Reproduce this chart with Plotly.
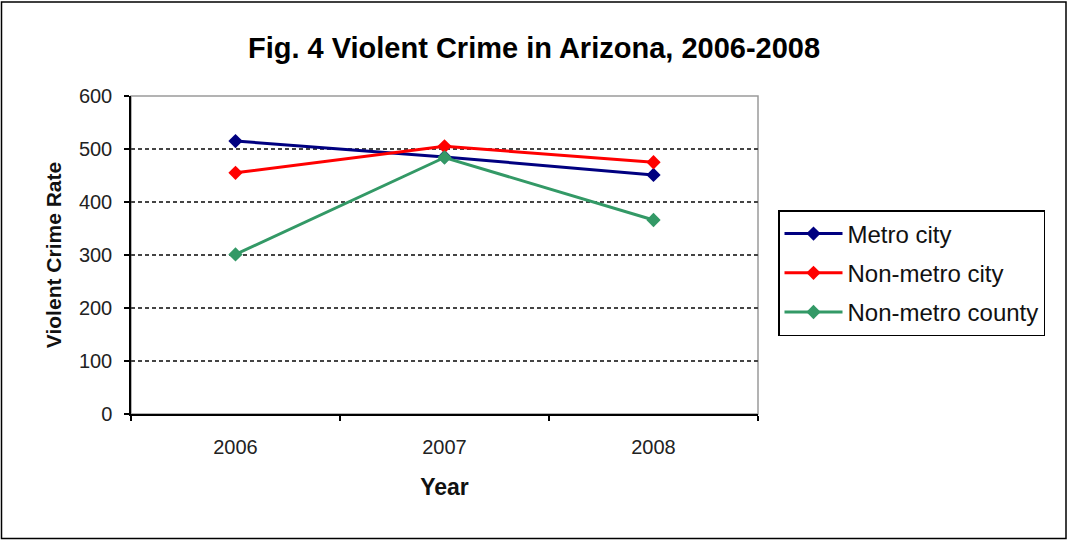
import plotly.graph_objects as go

years = ["2006", "2007", "2008"]
metro_city = [515, 485, 451]
non_metro_city = [455, 505, 475]
non_metro_county = [301, 484, 366]
series_names = ["Metro city", "Non-metro city", "Non-metro county"]
series_colors = ["#000080", "#FF0000", "#339966"]

W, H = 1068, 541
L, R, T, B = 131, 310, 96, 127
pw, ph = W - L - R, H - T - B

fig = go.Figure()
for i, (name, vals, col) in enumerate(zip(series_names, [metro_city, non_metro_city, non_metro_county], series_colors)):
    fig.add_trace(go.Scatter(
        x=years, y=vals, name=name, mode="lines+markers",
        line=dict(color=col, width=3),
        marker=dict(symbol="diamond", size=11, color=col),
        legendgroup=f"g{i}",
    ))

font_family = "Liberation Sans, Arial, sans-serif"

def px_x(px):
    return (px - L) / pw

def px_y(py):
    return (H - B - py) / ph

fig.update_layout(
    width=W, height=H,
    margin=dict(l=L, r=R, t=T, b=B),
    paper_bgcolor="white", plot_bgcolor="white",
    font=dict(family=font_family, color="#111"),
    title=dict(text="<b>Fig. 4 Violent Crime in Arizona, 2006-2008</b>",
               x=0.5, xanchor="center", xref="container",
               y=1 - 48 / H, yanchor="middle", yref="container",
               font=dict(size=29, color="#000")),
    showlegend=True,
    legend=dict(x=px_x(778), y=px_y(210), xanchor="left", yanchor="top",
                bordercolor="#000", borderwidth=1.5, bgcolor="white",
                font=dict(size=24, color="#111"), tracegroupgap=5,
                itemwidth=58),
    shapes=[
        dict(type="rect", xref="paper", yref="paper", x0=0, x1=1, y0=0, y1=1,
             line=dict(color="#9a9a9a", width=1.5), layer="below"),
        dict(type="rect", xref="paper", yref="paper",
             x0=px_x(1.5), x1=px_x(1066), y0=px_y(538.5), y1=px_y(2),
             line=dict(color="#000", width=1.5), layer="below"),
    ],
)

fig.update_xaxes(
    type="category", range=[-0.5, 2.5],
    showline=True, linecolor="#000", linewidth=1.5,
    ticks="outside", tickson="boundaries", ticklen=5, tickcolor="#000", tickwidth=1.5,
    showgrid=False, tickfont=dict(size=20, color="#222"), ticklabelstandoff=14,
    title=dict(text="<b>Year</b>", font=dict(size=23, color="#111"), standoff=22),
)
fig.update_yaxes(
    range=[0, 600], dtick=100, tick0=0,
    showline=True, linecolor="#000", linewidth=1.5,
    ticks="outside", ticklen=5, tickcolor="#000", tickwidth=1.5,
    showgrid=True, gridcolor="#444", gridwidth=2, griddash="4px,3px",
    zeroline=False,
    tickfont=dict(size=20, color="#222"), ticklabelstandoff=8,
    title=dict(text="<b>Violent Crime Rate</b>", font=dict(size=21, color="#111"), standoff=12),
)

fig.write_html("out.html")
